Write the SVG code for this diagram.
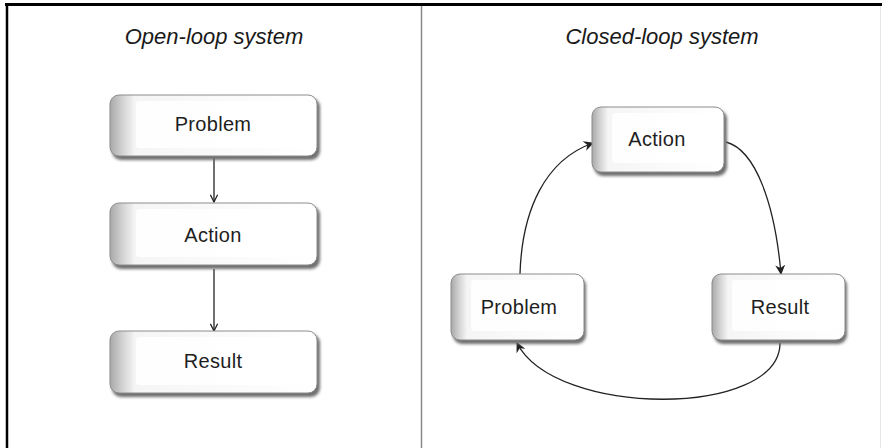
<svg xmlns="http://www.w3.org/2000/svg" width="882" height="448" viewBox="0 0 882 448">
  <defs>
    <style>
      .title { font-family: "Liberation Sans", Arial, sans-serif; font-style: italic; font-size: 22px; fill: #1a1a1a; text-anchor: middle; }
      .label { font-family: "Liberation Sans", Arial, sans-serif; font-size: 20px; letter-spacing: 0.3px; fill: #1e1e1e; text-anchor: middle; dominant-baseline: central; }
      .box { fill: url(#faceGrad); stroke: #8c8c8c; stroke-width: 1; }
      .shade { fill: #6e6e6e; filter: url(#soft); }
      .inner { fill: #ffffff; opacity: 0.85; }
      .edge { fill: none; stroke: #222; stroke-width: 1.3; }
    </style>
    <linearGradient id="faceGrad" x1="0" y1="0" x2="1" y2="0">
      <stop offset="0" stop-color="#a8a8a8"/>
      <stop offset="0.06" stop-color="#d2d2d2"/>
      <stop offset="0.12" stop-color="#f5f5f5"/>
      <stop offset="1" stop-color="#ffffff"/>
    </linearGradient>
    <filter id="soft" x="-10%" y="-10%" width="120%" height="130%">
      <feGaussianBlur stdDeviation="1.6"/>
    </filter>
    <marker id="arrow" viewBox="0 0 10 10" refX="9" refY="5" markerWidth="10" markerHeight="10" markerUnits="userSpaceOnUse" orient="auto">
      <path d="M0,0 L10,5 L0,10 L3,5 z" fill="#222"/>
    </marker>
    <marker id="vee" viewBox="0 0 10 10" refX="9" refY="5" markerWidth="9" markerHeight="9" markerUnits="userSpaceOnUse" orient="auto">
      <path d="M1,1 L9,5 L1,9" fill="none" stroke="#222" stroke-width="1.4"/>
    </marker>
  </defs>

  <rect x="0" y="0" width="882" height="448" fill="#ffffff"/>

  <!-- frame and divider -->
  <line x1="5" y1="4.5" x2="882" y2="4.5" stroke="#000" stroke-width="3"/>
  <line x1="7" y1="4" x2="7" y2="448" stroke="#000" stroke-width="2.5"/>
  <line x1="421.5" y1="6" x2="421.5" y2="448" stroke="#8a8a8a" stroke-width="1.5"/>
  <line x1="880.5" y1="6" x2="880.5" y2="448" stroke="#e6e6e6" stroke-width="1"/>

  <text class="title" x="214" y="44">Open-loop system</text>
  <text class="title" x="662" y="44">Closed-loop system</text>

  <!-- connectors -->
  <g id="connectors">
    <line class="edge" x1="214" y1="158" x2="214" y2="202" marker-end="url(#vee)"/>
    <line class="edge" x1="214" y1="269" x2="214" y2="331" marker-end="url(#vee)"/>
    <path class="edge" d="M726,142 C756,150 775,205 781,274" marker-end="url(#arrow)"/>
    <path class="edge" d="M780,343 C780,418 555,418 517,343" marker-end="url(#arrow)"/>
    <path class="edge" d="M520,274 C522,210 545,160 593,143" marker-end="url(#arrow)"/>
  </g>

  <!-- open-loop nodes -->
  <g id="ol-problem">
    <rect class="shade" x="112" y="98" width="208" height="62" rx="9"/>
    <rect class="box" x="110" y="95" width="207" height="61" rx="9"/>
    <rect class="inner" x="136" y="101" width="170" height="47" rx="3"/>
    <text class="label" x="213" y="124">Problem</text>
  </g>
  <g id="ol-action">
    <rect class="shade" x="112" y="206" width="208" height="63" rx="9"/>
    <rect class="box" x="110" y="203" width="207" height="62" rx="9"/>
    <rect class="inner" x="136" y="209" width="170" height="48" rx="3"/>
    <text class="label" x="213" y="235">Action</text>
  </g>
  <g id="ol-result">
    <rect class="shade" x="112" y="334" width="208" height="63" rx="9"/>
    <rect class="box" x="110" y="331" width="207" height="62" rx="9"/>
    <rect class="inner" x="136" y="337" width="170" height="48" rx="3"/>
    <text class="label" x="213" y="361">Result</text>
  </g>

  <!-- closed-loop nodes -->
  <g id="cl-action">
    <rect class="shade" x="594" y="110" width="133" height="66" rx="9"/>
    <rect class="box" x="592" y="107" width="132" height="65" rx="9"/>
    <rect class="inner" x="612" y="113" width="104" height="50" rx="3"/>
    <text class="label" x="657" y="139">Action</text>
  </g>
  <g id="cl-problem">
    <rect class="shade" x="453" y="277" width="133" height="67" rx="9"/>
    <rect class="box" x="451" y="274" width="133" height="66" rx="9"/>
    <rect class="inner" x="471" y="280" width="105" height="51" rx="3"/>
    <text class="label" x="519" y="307">Problem</text>
  </g>
  <g id="cl-result">
    <rect class="shade" x="714" y="277" width="133" height="67" rx="9"/>
    <rect class="box" x="712" y="274" width="133" height="66" rx="9"/>
    <rect class="inner" x="732" y="280" width="105" height="51" rx="3"/>
    <text class="label" x="780" y="307">Result</text>
  </g>
</svg>
